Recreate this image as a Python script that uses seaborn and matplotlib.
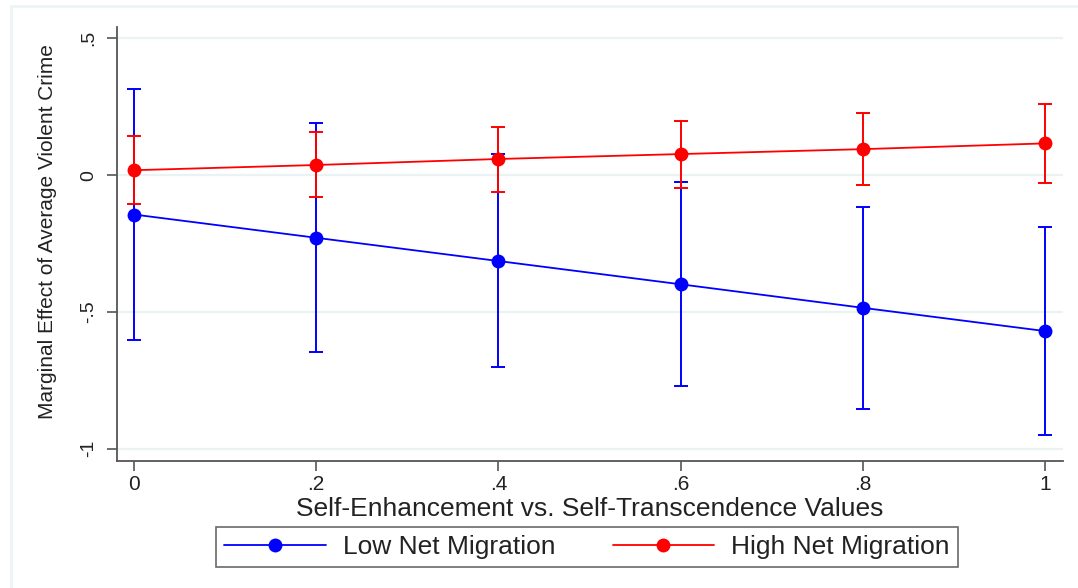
import numpy as np
import pandas as pd
import matplotlib
matplotlib.use("Agg")
import matplotlib.pyplot as plt
from matplotlib.lines import Line2D
import seaborn as sns

# ---- data ----
x_values = [0.0, 0.2, 0.4, 0.6, 0.8, 1.0]
low_est = [-0.144, -0.229, -0.314, -0.399, -0.485, -0.570]
low_lo = [-0.601, -0.648, -0.703, -0.772, -0.854, -0.949]
low_hi = [0.314, 0.190, 0.077, -0.026, -0.116, -0.189]
high_est = [0.018, 0.037, 0.059, 0.077, 0.095, 0.116]
high_lo = [-0.106, -0.080, -0.062, -0.048, -0.037, -0.030]
high_hi = [0.144, 0.157, 0.176, 0.198, 0.226, 0.259]
series_names = ["Low Net Migration", "High Net Migration"]
x_ticks = [0, 0.2, 0.4, 0.6, 0.8, 1.0]
x_ticklabels = ["0", ".2", ".4", ".6", ".8", "1"]
y_ticks = [-1, -0.5, 0, 0.5]
y_ticklabels = ["-1", "-.5", "0", ".5"]
x_title = "Self-Enhancement vs. Self-Transcendence Values"
y_title = "Marginal Effect of Average Violent Crime"

sns.set_theme(style="white")
plt.rcParams['font.family'] = ['Liberation Sans', 'DejaVu Sans']

df = pd.DataFrame({
    "x": x_values * 2,
    "est": low_est + high_est,
    "lo": low_lo + high_lo,
    "hi": low_hi + high_hi,
    "group": [series_names[0]] * 6 + [series_names[1]] * 6,
})
colors = {series_names[0]: "#0000ff", series_names[1]: "#ff0000"}

fig = plt.figure(figsize=(10.78, 5.88), dpi=100)
ax = fig.add_axes([117/1078, 1 - 461/588, 946/1078, (461 - 27)/588])

for gi, name in enumerate(series_names):
    sub = df[df.group == name]
    ax.errorbar(sub.x, sub.est, yerr=[sub.est - sub.lo, sub.hi - sub.est],
                fmt="none", ecolor=colors[name], elinewidth=1.4, capsize=5,
                capthick=1.4, zorder=3 + 2 * gi)
    sns.lineplot(data=sub, x="x", y="est", color=colors[name], marker="o",
                 markersize=10, markeredgewidth=0, linewidth=1.3, ax=ax,
                 zorder=4 + 2 * gi, legend=False)

ax.set_xlim(-0.0187, 1.0198)
ax.set_ylim(-1.045, 0.5415)
ax.set_xticks(x_ticks)
ax.set_xticklabels(x_ticklabels, fontsize=15)
ax.set_yticks(y_ticks)
ax.set_yticklabels(y_ticklabels, fontsize=14, rotation=90, va="center")
for yv in y_ticks:
    ax.axhline(yv, color="#eaf2f3", lw=1.6, zorder=1)

for s in ["top", "right"]:
    ax.spines[s].set_visible(False)
for s in ["left", "bottom"]:
    ax.spines[s].set_color("#555555")
    ax.spines[s].set_linewidth(1.3)
ax.tick_params(axis="both", which="major", direction="out", length=7,
               width=1.2, color="#555555", labelcolor="#222222", bottom=True, left=True)
ax.tick_params(axis="y", pad=7)
ax.tick_params(axis="x", pad=3)

ax.set_xlabel(x_title, fontsize=19, color="#222222", labelpad=2)
ax.set_ylabel(y_title, fontsize=15, color="#222222")
ax.yaxis.set_label_coords(-0.063, (461 - 232) / 434)

handles = [Line2D([0], [0], color=colors[n], lw=1.3, marker="o", markersize=10,
                  markeredgewidth=0) for n in series_names]
leg = fig.legend(handles, series_names, loc="center", bbox_to_anchor=(587/1078, 1 - 547/588),
                 ncol=2, fontsize=19, frameon=True, fancybox=False, handlelength=3.86,
                 handletextpad=0.64, columnspacing=2.16, borderpad=0.3, borderaxespad=0)
leg.get_frame().set_edgecolor("#444444")
leg.get_frame().set_linewidth(1.2)
for t in leg.get_texts():
    t.set_color("#222222")

# faint outer frame of graph region
fig.add_artist(Line2D([11/1078, 11/1078], [0, 1 - 6/588], transform=fig.transFigure,
                      color="#eef3f6", lw=2))
fig.add_artist(Line2D([11/1078, 1], [1 - 6/588, 1 - 6/588], transform=fig.transFigure,
                      color="#eef3f6", lw=2))

fig.savefig("out.png", dpi=100)
